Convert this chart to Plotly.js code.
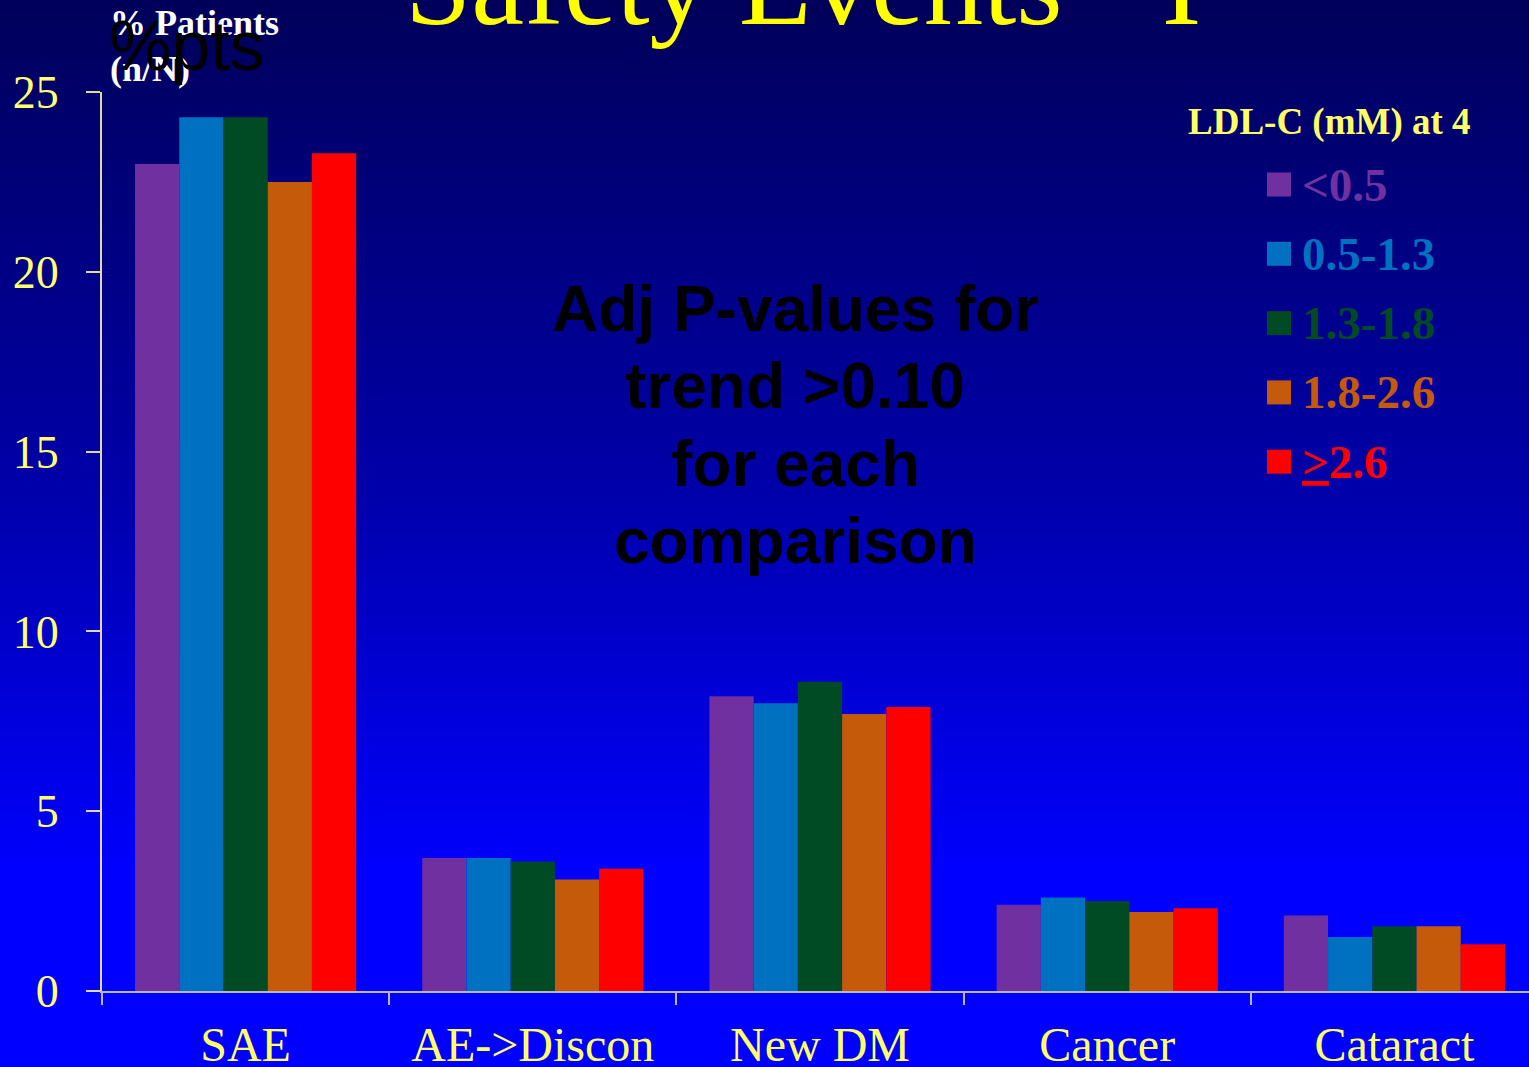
<!DOCTYPE html>
<html>
<head>
<meta charset="utf-8">
<script src="https://cdn.plot.ly/plotly-3.0.1.min.js"></script>
<style>
  html, body { margin: 0; padding: 0; }
  body {
    width: 1529px; height: 1067px; overflow: hidden;
    background: linear-gradient(to bottom, #00005A 0%, #0000A8 45%, #0000FF 82%, #0000FF 100%);
  }
  #chart { width: 1529px; height: 1067px; }
</style>
</head>
<body>
<div id="chart"></div>
<script>
// Safety event categories along the x axis
const categories = ['SAE', 'AE-&gt;Discon', 'New DM', 'Cancer', 'Cataract'];

// LDL-C strata (mM) – legend labels
const strata = ['&lt;0.5', '0.5-1.3', '1.3-1.8', '1.8-2.6', '<u>&gt;</u>2.6'];
const strataColors = ['#7030A0', '#0070C0', '#004B23', '#C55A0B', '#FF0000'];

// % patients (n/N) per stratum, one array per stratum
const ldlBelow05 = [23.0, 3.7, 8.2, 2.4, 2.1];
const ldl05to13  = [24.3, 3.7, 8.0, 2.6, 1.5];
const ldl13to18  = [24.3, 3.6, 8.6, 2.5, 1.8];
const ldl18to26  = [22.5, 3.1, 7.7, 2.2, 1.8];
const ldlAbove26 = [23.3, 3.4, 7.9, 2.3, 1.3];
const seriesValues = [ldlBelow05, ldl05to13, ldl13to18, ldl18to26, ldlAbove26];

// Y axis ticks
const yTicks = [0, 5, 10, 15, 20, 25];

// Centre note text, one entry per line
const noteLines = ['Adj P-values for', 'trend &gt;0.10', 'for each', 'comparison'];

// Plot area geometry (pixels) used to place annotations
const W = 1529, H = 1067;
const L = 102, T = 92, B = 991;
const px = x => (x - L) / (W - L);
const py = y => (B - y) / (B - T);

const traces = seriesValues.map((vals, i) => ({
  type: 'bar',
  x: categories,
  y: vals,
  name: strata[i],
  marker: { color: strataColors[i], line: { width: 0 } },
  hoverinfo: 'skip',
  showlegend: false
}));

const serif = 'Liberation Serif, Times New Roman, serif';
const sans = 'Liberation Sans, Arial, sans-serif';

const annotations = [];
const shapes = [];

// Slide title
annotations.push({
  xref: 'paper', yref: 'paper', x: px(803), y: py(-16),
  text: 'Safety Events - I', showarrow: false,
  xanchor: 'center', yanchor: 'middle',
  font: { family: serif, size: 119, color: '#FFFF00' }
});

// Y axis caption
annotations.push({
  xref: 'paper', yref: 'paper', x: px(108), y: py(23),
  text: '<b>% Patients</b>', showarrow: false,
  xanchor: 'left', yanchor: 'middle',
  font: { family: serif, size: 36, color: '#FFFFFF' }
});
annotations.push({
  xref: 'paper', yref: 'paper', x: px(108), y: py(69),
  text: '<b>(n/N)</b>', showarrow: false,
  xanchor: 'left', yanchor: 'middle',
  font: { family: serif, size: 36, color: '#FFFFFF' }
});
annotations.push({
  xref: 'paper', yref: 'paper', x: px(107), y: py(46),
  text: '%pts', showarrow: false,
  xanchor: 'left', yanchor: 'middle',
  font: { family: sans, size: 70, color: '#000000' }
});

// Centre note
noteLines.forEach((line, i) => {
  annotations.push({
    xref: 'paper', yref: 'paper', x: px(795), y: py(309 + i * 77.3),
    text: '<b>' + line + '</b>', showarrow: false,
    xanchor: 'center', yanchor: 'middle',
    font: { family: sans, size: 64, color: '#000000' }
  });
});

// Legend title
annotations.push({
  xref: 'paper', yref: 'paper', x: px(1186), y: py(122),
  text: '<b>LDL-C (mM) at 4</b>', showarrow: false,
  xanchor: 'left', yanchor: 'middle',
  font: { family: serif, size: 37, color: '#FFFF66' }
});

// Legend entries: coloured key square plus coloured label
strata.forEach((label, i) => {
  const cy = 184.5 + i * 69.3;
  shapes.push({
    type: 'rect', xref: 'paper', yref: 'paper',
    xsizemode: 'pixel', ysizemode: 'pixel',
    xanchor: px(1267), yanchor: py(cy),
    x0: 0, x1: 24, y0: -12, y1: 12,
    fillcolor: strataColors[i], line: { width: 0 }
  });
  annotations.push({
    xref: 'paper', yref: 'paper', x: px(1300), y: py(cy),
    text: '<b>' + label + '</b>', showarrow: false,
    xanchor: 'left', yanchor: 'middle',
    font: { family: serif, size: 47, color: strataColors[i] }
  });
});

const layout = {
  width: W, height: H,
  margin: { l: L, r: 0, t: T, b: H - B, pad: 0 },
  paper_bgcolor: 'rgba(0,0,0,0)',
  plot_bgcolor: 'rgba(0,0,0,0)',
  barmode: 'group',
  bargap: 0.23,
  bargroupgap: 0,
  showlegend: false,
  xaxis: {
    type: 'category',
    range: [-0.5, (W - L) / 287.2 - 0.5],
    showline: true, linecolor: '#B8B8B8', linewidth: 2,
    ticks: 'outside', tickson: 'boundaries', ticklen: 12, tickwidth: 2, tickcolor: '#B8B8B8',
    showgrid: false, zeroline: false,
    tickfont: { family: serif, size: 48, color: '#FFFF66' },
    ticklabelstandoff: 10
  },
  yaxis: {
    range: [0, 25],
    tickvals: yTicks,
    showline: true, linecolor: '#E0D8A0', linewidth: 2,
    ticks: 'outside', ticklen: 14, tickwidth: 2, tickcolor: '#E0D8A0',
    showgrid: false, zeroline: false,
    tickfont: { family: serif, size: 46, color: '#FFFF70' },
    ticklabelstandoff: 18
  },
  annotations: annotations,
  shapes: shapes
};

Plotly.newPlot('chart', traces, layout, { staticPlot: true, displayModeBar: false });
</script>
</body>
</html>
